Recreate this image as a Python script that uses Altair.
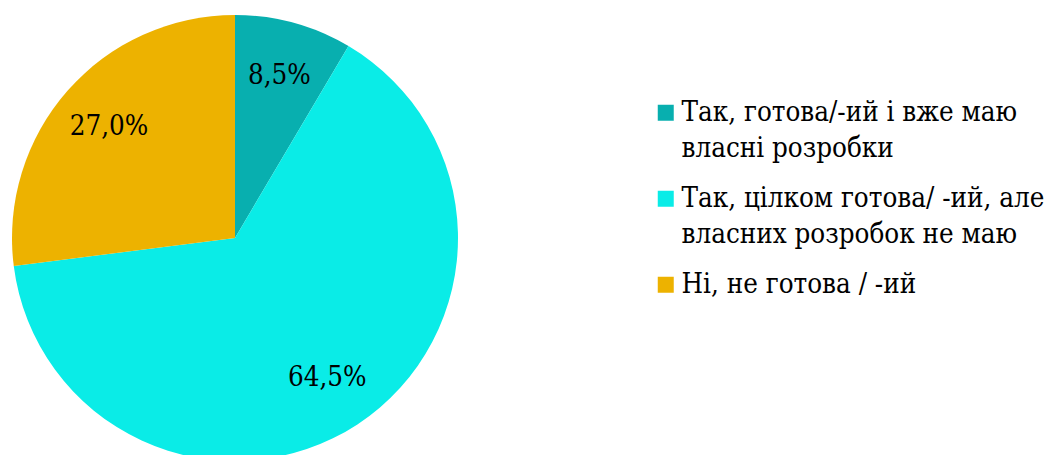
import altair as alt
import pandas as pd

categories = [
    "Так, готова/-ий і вже маю власні розробки",
    "Так, цілком готова/ -ий, але власних розробок не маю",
    "Ні, не готова / -ий",
]
values = [8.5, 64.5, 27.0]
labels = ["8,5%", "64,5%", "27,0%"]
colors = ["#08AFAF", "#0AECE7", "#EDB200"]

FONT = "DejaVu Serif Condensed"

df = pd.DataFrame({"cat": categories, "val": values, "lab": labels, "ord": [0, 1, 2]})

label_expr = (
    "datum.label == '" + categories[0] + "' ? ['Так, готова/-ий і вже маю', 'власні розробки'] : "
    "datum.label == '" + categories[1] + "' ? ['Так, цілком готова/ -ий, але', 'власних розробок не маю'] : datum.label"
)

base = alt.Chart(df).encode(
    theta=alt.Theta("val:Q", stack=True),
    order=alt.Order("ord:Q"),
)

pie = base.mark_arc(outerRadius=223).encode(
    color=alt.Color(
        "cat:N",
        scale=alt.Scale(domain=categories, range=colors),
        sort=categories,
        legend=alt.Legend(
            title=None,
            orient="none",
            legendX=644,
            legendY=91,
            labelExpr=label_expr,
            labelFont=FONT,
            labelFontSize=27.5,
            labelColor="black",
            labelLimit=0,
            symbolType="square",
            symbolSize=256,
            symbolStrokeWidth=0,
            symbolOpacity=1,
            labelOffset=2,
            rowPadding=21,
            padding=0,
        ),
    )
)

text = base.mark_text(
    radius=168, font=FONT, fontSize=27.5, color="black"
).encode(text="lab:N")

chart = (
    (pie + text)
    .properties(width=454, height=460, padding=0)
    .configure_view(stroke=None)
    .configure(style={"guide-label": {"lineHeight": 36}})
)

chart.save("out.html", embed_options={"renderer": "svg", "actions": False})
